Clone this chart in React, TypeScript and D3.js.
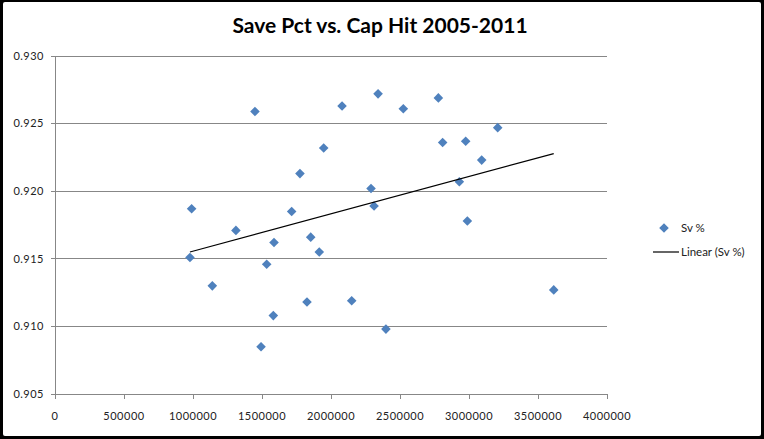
import * as React from 'react'
import * as d3 from 'd3'

const width = 764
const height = 439
const margin = { top: 56, right: 157, bottom: 45, left: 55 }
const blue = '#4f81bd'
const gridColor = '#878787'
const font = 'Lato, "Open Sans", sans-serif'

// cap hit ($) and save percentage
const capHit = [
  990000, 978000, 1140000, 1311000, 1587000, 1534000, 1582000, 1493000, 1715000, 1853000,
  1915000, 1826000, 1449000, 1947000, 1775000, 2080000, 2341000, 2524000, 2778000, 2809000,
  2976000, 3208000, 3092000, 2930000, 2290000, 2312000, 2988000, 2150000, 2398000, 3614000,
]
const svPct = [
  0.9187, 0.9151, 0.913, 0.9171, 0.9162, 0.9146, 0.9108, 0.9085, 0.9185, 0.9166,
  0.9155, 0.9118, 0.9259, 0.9232, 0.9213, 0.9263, 0.9272, 0.9261, 0.9269, 0.9236,
  0.9237, 0.9247, 0.9223, 0.9207, 0.9202, 0.9189, 0.9178, 0.9119, 0.9098, 0.9127,
]
const xDomain = [0, 4000000]
const yDomain = [0.905, 0.93]
const title = 'Save Pct vs. Cap Hit 2005-2011'
const seriesName = 'Sv %'
const trendName = 'Linear (Sv %)'

const App = () => {
  const xScale = d3
    .scaleLinear()
    .domain(xDomain)
    .range([margin.left, width - margin.right])
  const yScale = d3
    .scaleLinear()
    .domain(yDomain)
    .range([height - margin.bottom, margin.top])

  const xTicks = d3.range(xDomain[0], xDomain[1] + 1, 500000)
  const yTicks = d3.range(0, 6).map(i => +(yDomain[0] + i * 0.005).toFixed(3))
  const yFmt = d3.format('.3f')

  // least squares fit for the trendline
  const mx = d3.mean(capHit)
  const my = d3.mean(svPct)
  const sxy = d3.sum(capHit, (x, i) => (x - mx) * (svPct[i] - my))
  const sxx = d3.sum(capHit, x => (x - mx) * (x - mx))
  const slope = sxy / sxx
  const icpt = my - slope * mx
  const ext = d3.extent(capHit)
  const trend = d3
    .line()
    .x(d => xScale(d))
    .y(d => yScale(icpt + slope * d))

  const diamond = d3.symbol(d3.symbolSquare, 46)()

  return (
    <div style={{ position: 'absolute', left: 0, top: 0 }}>
      <svg width={width} height={height} style={{ display: 'block' }}>
        <rect x={0} y={0} width={width} height={height} fill="#000" />
        <rect x={3} y={2} width={width - 6} height={height - 5} fill="#fff" rx={2} />
        <text
          x={380}
          y={33}
          textAnchor="middle"
          fontFamily={font}
          fontWeight="bold"
          fontSize={21}
          fill="#000"
        >
          {title}
        </text>

        {yTicks.map(t => (
          <g key={t}>
            <line
              x1={margin.left - 4}
              x2={xScale(xDomain[1])}
              y1={yScale(t)}
              y2={yScale(t)}
              stroke={gridColor}
              strokeWidth={1}
              shapeRendering="crispEdges"
            />
            <text
              x={44}
              y={yScale(t)}
              dy="0.35em"
              textAnchor="end"
              fontFamily={font}
              fontSize={11}
              letterSpacing={0.5}
              fill="#222"
            >
              {yFmt(t)}
            </text>
          </g>
        ))}
        <line
          x1={margin.left}
          x2={margin.left}
          y1={yScale(yDomain[1])}
          y2={yScale(yDomain[0])}
          stroke={gridColor}
          shapeRendering="crispEdges"
        />
        {xTicks.map(t => (
          <g key={t}>
            <line
              x1={xScale(t)}
              x2={xScale(t)}
              y1={yScale(yDomain[0])}
              y2={yScale(yDomain[0]) + 5}
              stroke={gridColor}
              shapeRendering="crispEdges"
            />
            <text
              x={xScale(t)}
              y={416}
              dy="0.35em"
              textAnchor="middle"
              fontFamily={font}
              fontSize={11}
              letterSpacing={0.5}
              fill="#222"
            >
              {t}
            </text>
          </g>
        ))}

        {capHit.map((x, i) => (
          <path
            key={i}
            d={diamond}
            transform={`translate(${xScale(x)},${yScale(svPct[i])}) rotate(45)`}
            fill={blue}
          />
        ))}
        <path d={trend(ext)} fill="none" stroke="#000" strokeWidth={1.2} />

        <path d={diamond} transform="translate(664,228) rotate(45)" fill={blue} />
        <text x={681} y={228} dy="0.35em" fontFamily={font} fontSize={11.5} fill="#222">
          {seriesName}
        </text>
        <line x1={653} x2={679} y1={252} y2={252} stroke="#000" strokeWidth={1.2} />
        <text x={681} y={252} dy="0.35em" fontFamily={font} fontSize={11.5} fill="#222">
          {trendName}
        </text>
      </svg>
    </div>
  )
}

export default App
